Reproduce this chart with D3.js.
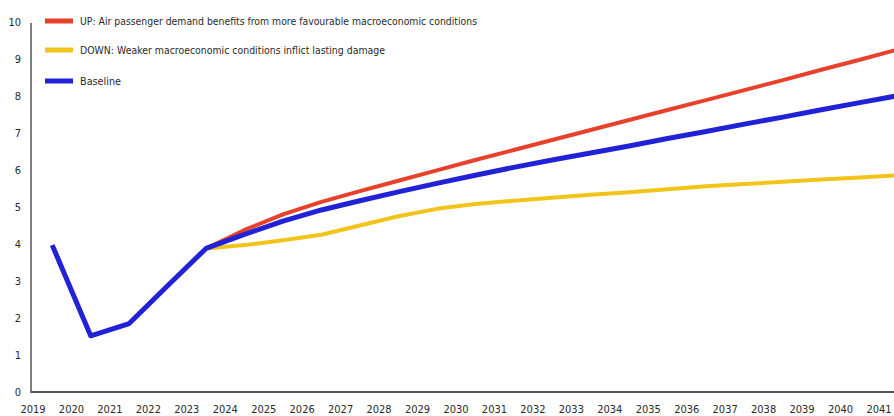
<!DOCTYPE html>
<html>
<head>
<meta charset="utf-8">
<script src="https://cdn.jsdelivr.net/npm/d3@7/dist/d3.min.js"></script>
<style>
  html, body { margin: 0; padding: 0; background: #fff; }
  svg { display: block; }
  text { font-family: "Liberation Sans Narrow", "DejaVu Sans Condensed", "Roboto Condensed", sans-serif; fill: #2a2a2a; }
</style>
</head>
<body>
<svg id="chart" width="894" height="416"></svg>
<script>
// ---- data ----
const xTickLabels = ["2019","2020","2021","2022","2023","2024","2025","2026","2027","2028","2029","2030","2031","2032","2033","2034","2035","2036","2037","2038","2039","2040","2041"];
const yTickLabels = [0,1,2,3,4,5,6,7,8,9,10];

const baselineYears = [2019,2020,2021,2022,2023,2024,2025,2026,2027,2028,2029,2030,2031,2032,2033,2034,2035,2036,2037,2038,2039,2040,2041];
const baselineValues = [3.97,1.52,1.85,2.87,3.88,4.26,4.62,4.92,5.17,5.41,5.64,5.86,6.07,6.27,6.46,6.65,6.85,7.04,7.24,7.43,7.63,7.82,8.01];

const scenarioYears = [2023,2024,2025,2026,2027,2028,2029,2030,2031,2032,2033,2034,2035,2036,2037,2038,2039,2040,2041];
const upValues   = [3.88,4.38,4.80,5.14,5.43,5.71,5.99,6.27,6.54,6.81,7.08,7.35,7.62,7.89,8.16,8.43,8.71,8.98,9.26];
const downValues = [3.88,3.97,4.10,4.25,4.50,4.75,4.95,5.08,5.17,5.25,5.33,5.40,5.48,5.56,5.62,5.68,5.74,5.80,5.86];

const seriesNames = [
  "UP: Air passenger demand benefits from more favourable macroeconomic conditions",
  "DOWN: Weaker macroeconomic conditions inflict lasting damage",
  "Baseline"
];
const seriesColors = ["#e8412b", "#f2c419", "#2121d6"];

// ---- layout ----
const svg = d3.select("#chart");
const x = d3.scaleLinear().domain([2019, 2041]).range([33, 879]);
const y = d3.scaleLinear().domain([0, 10]).range([392, 22]);
const axisLeftX = 31;
const midYear = 0.5;

// axes lines
svg.append("line")
  .attr("x1", axisLeftX).attr("x2", axisLeftX)
  .attr("y1", 23).attr("y2", y(0) + 1)
  .attr("stroke", "#555").attr("stroke-width", 1.5);
svg.append("line")
  .attr("x1", axisLeftX).attr("x2", 894)
  .attr("y1", y(0)).attr("y2", y(0))
  .attr("stroke", "#555").attr("stroke-width", 2);

// y tick labels
svg.append("g").selectAll("text").data(yTickLabels).join("text")
  .attr("x", 21).attr("y", d => y(d))
  .attr("dy", "0.35em")
  .attr("text-anchor", "end")
  .attr("font-size", 11)
  .text(d => d);

// x tick labels
svg.append("g").selectAll("text").data(xTickLabels).join("text")
  .attr("x", d => x(+d)).attr("y", 409)
  .attr("dy", "0.35em")
  .attr("text-anchor", "middle")
  .attr("font-size", 11)
  .text(d => d);

// lines
const line = d3.line()
  .x(d => x(d[0] + midYear))
  .y(d => y(d[1]));

const downData = scenarioYears.map((yr, i) => [yr, downValues[i]]);
const upData = scenarioYears.map((yr, i) => [yr, upValues[i]]);
const baseData = baselineYears.map((yr, i) => [yr, baselineValues[i]]);

svg.append("path").datum(downData).attr("d", line)
  .attr("fill", "none").attr("stroke", seriesColors[1]).attr("stroke-width", 4)
  .attr("stroke-linejoin", "round");
svg.append("path").datum(upData).attr("d", line)
  .attr("fill", "none").attr("stroke", seriesColors[0]).attr("stroke-width", 4)
  .attr("stroke-linejoin", "round");
svg.append("path").datum(baseData).attr("d", line)
  .attr("fill", "none").attr("stroke", seriesColors[2]).attr("stroke-width", 5)
  .attr("stroke-linejoin", "round");

// legend
const legendY = [21, 50, 81];
const legendTextW = [397, 305, 41];
const legend = svg.append("g");
seriesNames.forEach((name, i) => {
  legend.append("line")
    .attr("x1", 45).attr("x2", 73)
    .attr("y1", legendY[i]).attr("y2", legendY[i])
    .attr("stroke", seriesColors[i]).attr("stroke-width", 5);
  legend.append("text")
    .attr("x", 80).attr("y", legendY[i])
    .attr("dy", "0.35em")
    .attr("font-size", 11)
    .attr("textLength", legendTextW[i])
    .attr("lengthAdjust", "spacingAndGlyphs")
    .text(name);
});
</script>
</body>
</html>
